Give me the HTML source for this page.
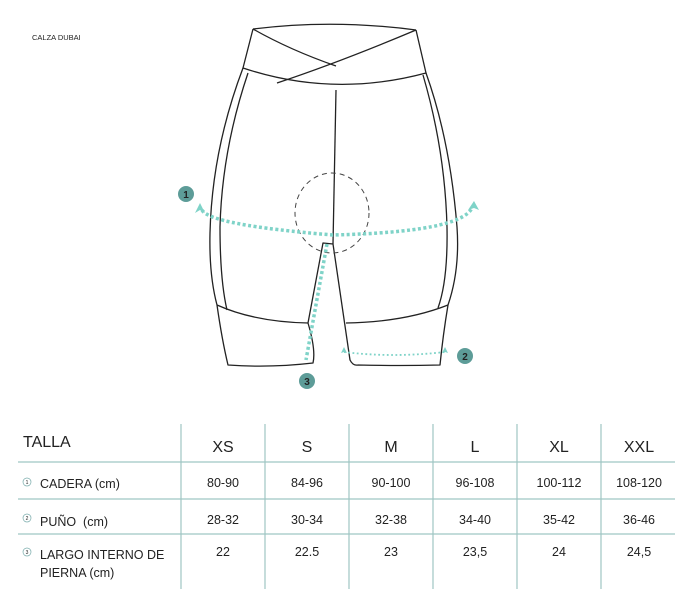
<!DOCTYPE html>
<html><head><meta charset="utf-8"><style>
html,body{margin:0;padding:0;background:#fff;width:691px;height:600px;overflow:hidden}
svg{display:block}
text{font-family:"Liberation Sans",sans-serif;fill:#222}
</style></head><body>
<svg width="691" height="600" viewBox="0 0 691 600" xmlns="http://www.w3.org/2000/svg">
<text x="32" y="40" font-size="7.5" fill="#222">CALZA DUBAI</text>
<g fill="none" stroke="#222" stroke-width="1.3" stroke-linejoin="round">
<path d="M253,29 Q333,19 416,30"/>
<path d="M253,29 L243,68 Q333,98 426,73 L416,30"/>
<path d="M253,29 Q290,50 336,66"/>
<path d="M277,83 Q340,62 416,30"/>
<path d="M243,68 Q212,150 210,233 Q209,275 217,305 Q222,340 228,365 Q270,368 313,363 Q316,350 308,323 L323,243 L333,244 L350,360 Q353,366 358,365 Q400,366 440,365 Q443,335 448,305 Q460,270 457,227 Q450,140 426,73"/>
<path d="M248,73 Q222,150 220,227 Q220,280 227,310"/>
<path d="M423,75 Q445,150 447,227 Q448,280 438,308"/>
<path d="M217,305 Q255,322 308,323"/>
<path d="M346,323 Q405,322 448,305"/>
<path d="M336,90 L333,244"/>
</g>
<ellipse cx="332" cy="213" rx="37" ry="40" fill="none" stroke="#444" stroke-width="1" stroke-dasharray="5,4"/>
<g fill="none" stroke="#7fd3c8">
<path d="M202,210 Q210,225 333,235 Q460,232 472,208" stroke-width="3.5" stroke-dasharray="3,2.5"/>
<path d="M327,244 L306,360" stroke-width="3.5" stroke-dasharray="3,2.5"/>
<path d="M344,352 Q392,358 445,352" stroke-width="1.8" stroke-dasharray="1.8,2.5"/>
</g>
<g fill="#7fd3c8">
<path d="M200,203 L195,213 L200,210 L205,213 Z"/>
<path d="M474,201 L468,210 L474,208 L479,210 Z"/>
<path d="M344,347 L341,353 L344,352 L347,353 Z"/>
<path d="M445,347 L442,353 L445,352 L448,353 Z"/>
</g>
<g>
<circle cx="186" cy="194" r="8" fill="#5d9c98"/><text x="186" y="198" font-size="10" font-weight="bold" text-anchor="middle" fill="#fff">1</text>
<circle cx="465" cy="356" r="8" fill="#5d9c98"/><text x="465" y="360" font-size="10" font-weight="bold" text-anchor="middle" fill="#fff">2</text>
<circle cx="307" cy="381" r="8" fill="#5d9c98"/><text x="307" y="385" font-size="10" font-weight="bold" text-anchor="middle" fill="#fff">3</text>
</g>
<g stroke="#9fc6c3" stroke-width="1.2">
<line x1="18" y1="462" x2="675" y2="462"/>
<line x1="18" y1="499" x2="675" y2="499"/>
<line x1="18" y1="534" x2="675" y2="534"/>
<line x1="181" y1="424" x2="181" y2="589"/>
<line x1="265" y1="424" x2="265" y2="589"/>
<line x1="349" y1="424" x2="349" y2="589"/>
<line x1="433" y1="424" x2="433" y2="589"/>
<line x1="517" y1="424" x2="517" y2="589"/>
<line x1="601" y1="424" x2="601" y2="589"/>
</g>
<text x="23" y="447" font-size="16">TALLA</text>
<g font-size="16" text-anchor="middle">
<text x="223" y="452">XS</text><text x="307" y="452">S</text><text x="391" y="452">M</text>
<text x="475" y="452">L</text><text x="559" y="452">XL</text><text x="639" y="452">XXL</text>
</g>
<g fill="none" stroke="#7aa" stroke-width="0.7">
<circle cx="27" cy="482" r="4"/><circle cx="27" cy="518" r="4"/><circle cx="27" cy="552" r="4"/>
</g>
<g font-size="5" text-anchor="middle">
<text x="27" y="484" fill="#7aa">1</text><text x="27" y="520" fill="#7aa">2</text><text x="27" y="554" fill="#7aa">3</text>
</g>
<g font-size="12.5">
<text x="40" y="488">CADERA (cm)</text>
<text x="40" y="526">PUÑO&#160; (cm)</text>
<text x="40" y="559">LARGO INTERNO DE</text>
<text x="40" y="577">PIERNA (cm)</text>
</g>
<g font-size="12.5" text-anchor="middle">
<text x="223" y="487">80-90</text><text x="307" y="487">84-96</text><text x="391" y="487">90-100</text><text x="475" y="487">96-108</text><text x="559" y="487">100-112</text><text x="639" y="487">108-120</text>
<text x="223" y="524">28-32</text><text x="307" y="524">30-34</text><text x="391" y="524">32-38</text><text x="475" y="524">34-40</text><text x="559" y="524">35-42</text><text x="639" y="524">36-46</text>
<text x="223" y="556">22</text><text x="307" y="556">22.5</text><text x="391" y="556">23</text><text x="475" y="556">23,5</text><text x="559" y="556">24</text><text x="639" y="556">24,5</text>
</g>
</svg>
</body></html>
